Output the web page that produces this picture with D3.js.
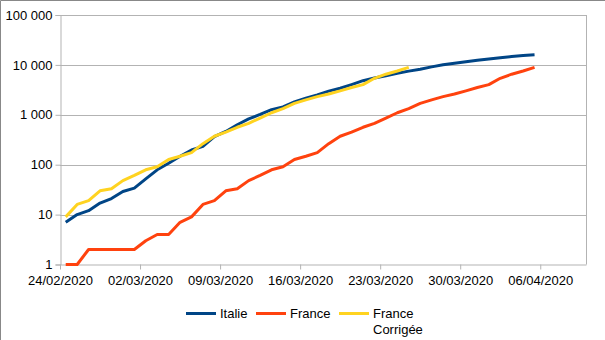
<!DOCTYPE html>
<html>
<head>
<meta charset="utf-8">
<script src="https://cdn.jsdelivr.net/npm/d3@7"></script>
<style>
  html, body { margin: 0; padding: 0; background: #fff; }
  svg { display: block; font-family: "Liberation Sans", Arial, sans-serif; }
</style>
</head>
<body>
<svg id="chart" width="605" height="340"></svg>
<script>
// Cumulative deaths, daily from 24/02/2020
const startDate = "2020-02-24";
const italie = [7, 10, 12, 17, 21, 29, 34, 52, 79, 107, 148, 197, 233, 366, 463, 631, 827,
  1016, 1266, 1441, 1809, 2158, 2503, 2978, 3405, 4032, 4825, 5476, 6077, 6820, 7503,
  8165, 9134, 10023, 10779, 11591, 12428, 13155, 13915, 14681, 15362, 15887];
const france = [1, 1, 2, 2, 2, 2, 2, 3, 4, 4, 7, 9, 16, 19, 30, 33, 48, 61, 79, 91, 127,
  148, 175, 264, 372, 450, 562, 674, 860, 1100, 1331, 1696, 1995, 2314, 2606, 3024,
  3523, 4032, 5387, 6507, 7560, 8911];
// France shifted 11 days earlier
const franceCorrigee = [9, 16, 19, 30, 33, 48, 61, 79, 91, 127, 148, 175, 264, 372, 450,
  562, 674, 860, 1100, 1331, 1696, 1995, 2314, 2606, 3024, 3523, 4032, 5387, 6507, 7560, 8911];
const xTickLabels = ["24/02/2020", "02/03/2020", "09/03/2020", "16/03/2020", "23/03/2020", "30/03/2020", "06/04/2020"];
const yTickValues = [1, 10, 100, 1000, 10000, 100000];
const seriesNames = ["Italie", "France", "France Corrigée"];
const seriesColors = ["#004586", "#ff420e", "#ffd320"];

const svg = d3.select("#chart");
const parse = d3.timeParse("%Y-%m-%d");
const fmtDay = d3.timeFormat("%d/%m/%Y");
const t0 = parse(startDate);
const plotLeft = 60, plotRight = 586, plotTop = 15, plotBottom = 264.5;

const x = d3.scaleTime()
  .domain([t0, d3.timeDay.offset(t0, 46)])
  .range([plotLeft, plotRight]);
const y = d3.scaleLog().domain([1, 100000]).range([plotBottom, plotTop]);

// outer frame
svg.append("path").attr("d", "M0.5,340 V0.5 H605")
  .attr("fill", "none").attr("stroke", "#888").attr("stroke-width", 1);

// horizontal gridlines
svg.append("g").selectAll("line").data(yTickValues.slice(1)).join("line")
  .attr("x1", plotLeft).attr("x2", plotRight)
  .attr("y1", d => Math.round(y(d)) + 0.5).attr("y2", d => Math.round(y(d)) + 0.5)
  .attr("stroke", "#b3b3b3");
// right border of plot area
svg.append("line").attr("x1", plotRight + 0.5).attr("x2", plotRight + 0.5)
  .attr("y1", plotTop).attr("y2", plotBottom).attr("stroke", "#b3b3b3");

// y axis
const fmtY = v => d3.format(",")(v).replace(/,/g, " ");
const yAxis = d3.axisLeft(y).tickValues(yTickValues).tickFormat(fmtY).tickSize(5).tickPadding(3);
const gy = svg.append("g").attr("transform", `translate(${plotLeft + 0.5},0)`).call(yAxis);
gy.selectAll("path.domain").attr("stroke", "#b3b3b3");
gy.selectAll(".tick line").attr("stroke", "#b3b3b3");
gy.selectAll(".tick text").attr("font-size", 13).attr("fill", "#000")
  .attr("font-family", "Liberation Sans, Arial, sans-serif");

// x axis
const xTicks = xTickLabels.map(s => d3.timeParse("%d/%m/%Y")(s));
const xAxis = d3.axisBottom(x).tickValues(xTicks).tickFormat(fmtDay).tickSize(5).tickPadding(6).tickSizeOuter(0);
const gx = svg.append("g").attr("transform", `translate(0,${plotBottom})`).call(xAxis);
gx.selectAll("path.domain").attr("stroke", "#b3b3b3");
gx.selectAll(".tick line").attr("stroke", "#b3b3b3");
gx.selectAll(".tick text").attr("font-size", 13).attr("fill", "#000")
  .attr("font-family", "Liberation Sans, Arial, sans-serif");

// series lines, plotted at mid-day
const pointDate = i => d3.timeHour.offset(t0, 24 * i + 12);
const line = d3.line().x((d, i) => x(pointDate(i))).y(d => y(d));
const allSeries = [italie, france, franceCorrigee];
allSeries.forEach((s, k) => {
  svg.append("path").datum(s)
    .attr("d", line)
    .attr("fill", "none")
    .attr("stroke", seriesColors[k])
    .attr("stroke-width", 3)
    .attr("stroke-linejoin", "round");
});

// legend
const legendItems = [
  { x: 186, lines: ["Italie"] },
  { x: 256, lines: ["France"] },
  { x: 339, lines: ["France", "Corrigée"] }
];
const lg = svg.append("g");
legendItems.forEach((it, k) => {
  lg.append("line").attr("x1", it.x).attr("x2", it.x + 30)
    .attr("y1", 313.5).attr("y2", 313.5)
    .attr("stroke", seriesColors[k]).attr("stroke-width", 3);
  const tx = lg.append("text").attr("x", it.x + 34).attr("y", 318)
    .attr("font-size", 13).attr("fill", "#000");
  it.lines.forEach((l, j) => {
    tx.append("tspan").attr("x", it.x + 34).attr("dy", j === 0 ? 0 : 16).text(l);
  });
});
</script>
</body>
</html>
